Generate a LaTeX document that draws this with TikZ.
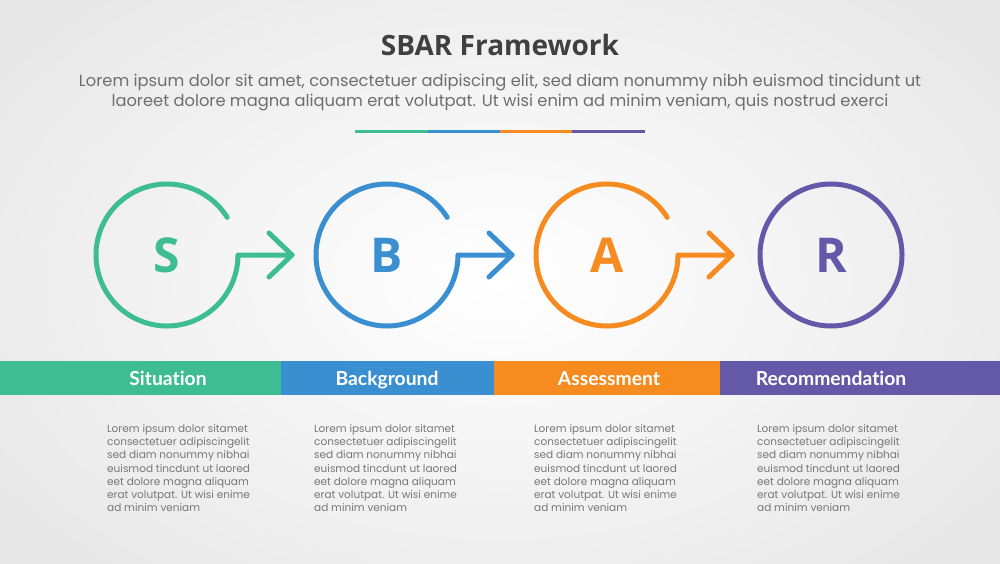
\documentclass[tikz,border=0pt]{standalone}
\usepackage{fontspec}
\setmainfont{Poppins}
\newfontfamily\opensans{Open Sans}
\newfontfamily\latofont[Ligatures=CommonOff]{Lato}
\definecolor{cg}{HTML}{3DBD91}
\definecolor{cb}{HTML}{3A8FD1}
\definecolor{co}{HTML}{F68B1F}
\definecolor{cp}{HTML}{6459A8}
\definecolor{darktext}{HTML}{404040}
\definecolor{greytext}{HTML}{6E6E6E}
\definecolor{bodytext}{HTML}{777777}
\tikzset{
  ring/.style={line width=5pt, line cap=round, line join=round},
  letter/.style={font=\opensans\bfseries\fontsize{48}{50}\selectfont},
  band/.style={draw=none, minimum height=34pt, inner sep=0pt, anchor=south west},
  bandlabel/.style={text=white, anchor=base, font=\latofont\bfseries\fontsize{19.3}{21}\selectfont},
  bodybox/.style={anchor=north west, inner sep=0pt, align=left, text=bodytext,
    font=\fontsize{10.5}{13.3}\selectfont},
}
\begin{document}
\begin{tikzpicture}[x=1pt,y=1pt]
\useasboundingbox (0,0) rectangle (1000,563);
\shade[inner color=white, outer color=black!9] (-100,-100) rectangle (1100,663);

% title
\node[font=\opensans\bfseries\fontsize{28}{32}\selectfont, text=darktext] (title) at (500,518) {SBAR Framework};
\node[font=\fontsize{16.3}{20}\selectfont, text=greytext, align=center] (sub) at (500,470)
 {Lorem ipsum dolor sit amet, consectetuer adipiscing elit, sed diam nonummy nibh euismod tincidunt ut\\
  laoreet dolore magna aliquam erat volutpat. Ut wisi enim ad minim veniam, quis nostrud exerci};

% colour rule
\coordinate (r0) at (355,431);
\coordinate (r1) at (428,431);
\coordinate (r2) at (500,431);
\coordinate (r3) at (572,431);
\coordinate (r4) at (645,431);
\draw[cg, line width=3pt] (r0) -- (r1);
\draw[cb, line width=3pt] (r1) -- (r2);
\draw[co, line width=3pt] (r2) -- (r3);
\draw[cp, line width=3pt] (r3) -- (r4);

% circles with arrows
\foreach \nm/\cx/\col/\lt in {s/167/cg/S, b/387/cb/B, a/607/co/A}{
  \node[letter, text=\col] (\nm) at (\cx,308) {\lt};
  \coordinate (\nm tip) at (\cx+125,308);
  \draw[ring, \col] ([shift={(32:71)}]\nm.center) arc[start angle=32, end angle=360, radius=71] -- (\nm tip);
  \draw[ring, \col] ([shift={(-23,22)}]\nm tip) -- (\nm tip) -- ([shift={(-23,-22)}]\nm tip);
}
\node[letter, text=cp, circle, draw=cp, line width=5pt, minimum size=142pt, inner sep=0pt] (r) at (831,308) {R};

% band
\node[band, fill=cg, minimum width=281pt] (band1) at (0,168) {};
\node[band, fill=cb, minimum width=213pt] (band2) at (281,168) {};
\node[band, fill=co, minimum width=226pt] (band3) at (494,168) {};
\node[band, fill=cp, minimum width=280pt] (band4) at (720,168) {};
\node[bandlabel] (l1) at (168,178) {Situation};
\node[bandlabel] (l2) at (387,178) {Background};
\node[bandlabel] (l3) at (609,178) {Assessment};
\node[bandlabel] (l4) at (831,178) {Recommendation};

% body texts
\foreach \nm/\bx in {t1/107, t2/314, t3/534, t4/757}{
  \node[bodybox] (\nm) at (\bx,139) {Lorem ipsum dolor sitamet\\consectetuer adipiscingelit\\sed diam nonummy nibhai\\euismod tincdunt ut laored\\eet dolore magna aliquam\\erat volutpat. Ut wisi enime\\ad minim veniam};
}
\end{tikzpicture}
\end{document}
